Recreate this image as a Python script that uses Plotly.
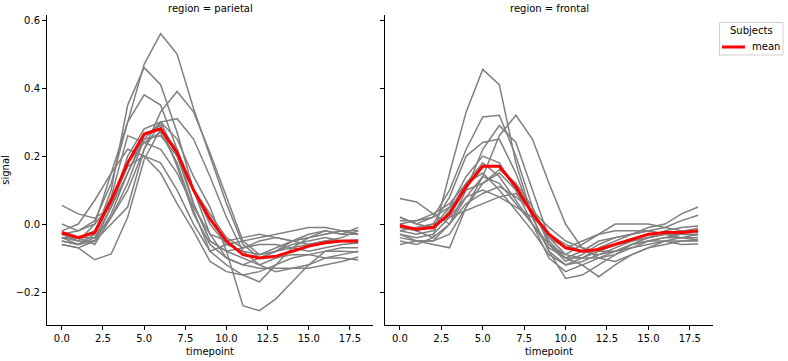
import plotly.graph_objects as go

timepoints = list(range(19))

parietal_subjects = [
    [0.0, -0.02, 0.01, 0.12, 0.30, 0.47, 0.56, 0.50, 0.34, 0.20, 0.06, -0.06, -0.10, -0.08, -0.06, -0.05, -0.04, -0.05, -0.056],
    [-0.04, -0.06, -0.03, 0.10, 0.35, 0.46, 0.41, 0.27, 0.10, -0.03, -0.10, -0.12, -0.10, -0.08, -0.07, -0.06, -0.05, -0.05, -0.047],
    [-0.03, -0.05, 0.0, 0.15, 0.30, 0.38, 0.35, 0.22, 0.06, -0.05, -0.08, -0.07, -0.05, -0.04, -0.05, -0.06, -0.05, -0.04, -0.02],
    [-0.05, -0.06, -0.05, 0.0, 0.05, 0.22, 0.33, 0.39, 0.33, 0.21, 0.08, -0.05, -0.09, -0.08, -0.05, -0.03, -0.02, -0.03, -0.01],
    [-0.04, -0.04, -0.04, 0.02, 0.10, 0.22, 0.30, 0.31, 0.25, 0.14, 0.02, -0.08, -0.12, -0.14, -0.13, -0.13, -0.12, -0.11, -0.097],
    [0.055, 0.03, 0.017, 0.05, 0.15, 0.25, 0.30, 0.25, 0.14, 0.05, -0.08, -0.24, -0.255, -0.22, -0.17, -0.12, -0.08, -0.07, -0.07],
    [-0.06, -0.07, -0.105, -0.088, 0.02, 0.19, 0.28, 0.22, 0.10, 0.0, -0.06, -0.08, -0.09, -0.07, -0.05, -0.04, -0.03, -0.02, -0.03],
    [-0.03, -0.04, -0.02, 0.08, 0.26, 0.24, 0.22, 0.15, 0.05, -0.03, -0.05, -0.04, -0.03, -0.04, -0.05, -0.04, -0.03, -0.02, -0.03],
    [-0.04, -0.05, -0.05, 0.05, 0.18, 0.24, 0.27, 0.18, 0.04, -0.08, -0.12, -0.15, -0.14, -0.12, -0.10, -0.09, -0.08, -0.08, -0.082],
    [-0.02, 0.0, 0.07, 0.15, 0.22, 0.20, 0.15, 0.06, -0.02, -0.11, -0.14, -0.15, -0.17, -0.12, -0.07, -0.04, -0.02, -0.03, -0.03],
    [-0.05, -0.06, -0.04, 0.05, 0.20, 0.28, 0.30, 0.20, 0.06, -0.05, -0.08, -0.10, -0.12, -0.10, -0.09, -0.09, -0.10, -0.10, -0.106],
    [-0.06, -0.07, -0.05, 0.03, 0.15, 0.26, 0.29, 0.17, 0.03, -0.06, -0.10, -0.12, -0.13, -0.13, -0.13, -0.12, -0.10, -0.09, -0.08],
    [-0.03, -0.02, 0.0, 0.06, 0.17, 0.20, 0.18, 0.10, 0.0, -0.08, -0.06, -0.05, -0.04, -0.03, -0.02, -0.01, -0.01, -0.02, -0.02],
    [-0.04, -0.04, -0.06, 0.02, 0.12, 0.25, 0.26, 0.20, 0.10, 0.03, -0.04, -0.07, -0.06, -0.06, -0.07, -0.08, -0.07, -0.06, -0.056],
]
parietal_mean = [-0.025, -0.04, -0.025, 0.07, 0.18, 0.265, 0.28, 0.21, 0.10, 0.015, -0.05, -0.09, -0.10, -0.095, -0.08, -0.065, -0.055, -0.05, -0.05]

frontal_subjects = [
    [0.0, -0.02, -0.04, 0.15, 0.33, 0.455, 0.41, 0.18, 0.02, -0.08, -0.12, -0.10, -0.08, -0.06, -0.05, -0.04, -0.03, -0.02, -0.012],
    [0.02, 0.0, 0.02, 0.10, 0.22, 0.315, 0.32, 0.20, 0.05, -0.06, -0.10, -0.08, -0.05, -0.04, -0.03, -0.01, 0.0, 0.03, 0.05],
    [-0.03, -0.05, -0.05, -0.03, 0.05, 0.14, 0.26, 0.32, 0.25, 0.12, 0.0, -0.07, -0.10, -0.11, -0.09, -0.07, -0.05, -0.04, -0.04],
    [0.075, 0.065, 0.03, 0.0, 0.10, 0.22, 0.29, 0.24, 0.10, -0.04, -0.09, -0.06, -0.03, -0.02, -0.02, -0.02, -0.01, 0.01, 0.026],
    [-0.01, -0.02, 0.0, 0.08, 0.20, 0.24, 0.25, 0.15, 0.02, -0.08, -0.16, -0.15, -0.12, -0.09, -0.06, -0.05, -0.05, -0.06, -0.059],
    [0.02, 0.0, -0.01, 0.05, 0.14, 0.20, 0.18, 0.10, 0.0, -0.10, -0.14, -0.12, -0.155, -0.12, -0.09, -0.07, -0.06, -0.05, -0.047],
    [-0.04, -0.05, -0.06, -0.07, 0.05, 0.12, 0.15, 0.10, 0.03, -0.04, -0.07, -0.05, -0.03, 0.0, 0.0, 0.0, -0.01, -0.02, -0.024],
    [-0.02, -0.03, -0.02, 0.04, 0.12, 0.18, 0.14, 0.07, 0.0, -0.07, -0.10, -0.10, -0.07, -0.05, -0.03, -0.02, -0.03, -0.03, -0.032],
    [-0.03, -0.04, -0.03, 0.02, 0.08, 0.10, 0.08, 0.05, 0.02, -0.03, -0.06, -0.08, -0.09, -0.07, -0.05, -0.04, -0.03, -0.03, -0.03],
    [0.01, 0.01, 0.03, 0.06, 0.12, 0.15, 0.10, 0.04, -0.02, -0.09, -0.12, -0.11, -0.09, -0.08, -0.06, -0.04, -0.02, -0.01, -0.006],
    [-0.05, -0.06, -0.04, 0.0, 0.06, 0.09, 0.11, 0.08, 0.04, -0.01, -0.05, -0.07, -0.08, -0.08, -0.07, -0.05, -0.04, -0.04, -0.047],
    [-0.02, -0.01, 0.0, 0.02, 0.04, 0.06, 0.08, 0.09, 0.04, -0.05, -0.10, -0.12, -0.10, -0.08, -0.06, -0.05, -0.04, -0.03, -0.02],
    [0.0, 0.01, 0.02, 0.05, 0.10, 0.12, 0.16, 0.12, 0.05, -0.06, -0.11, -0.09, -0.06, -0.04, -0.03, -0.02, -0.03, -0.04, -0.03],
    [-0.06, -0.05, -0.05, 0.0, 0.08, 0.14, 0.12, 0.06, 0.0, -0.06, -0.09, -0.10, -0.10, -0.09, -0.07, -0.06, -0.05, -0.05, -0.05],
]
frontal_mean = [-0.005, -0.015, -0.01, 0.03, 0.11, 0.17, 0.17, 0.11, 0.03, -0.03, -0.07, -0.08, -0.075, -0.06, -0.045, -0.03, -0.025, -0.025, -0.02]

regions = ["parietal", "frontal"]
x_ticks = [0.0, 2.5, 5.0, 7.5, 10.0, 12.5, 15.0, 17.5]
y_ticks = [-0.2, 0.0, 0.2, 0.4, 0.6]
legend_title = "Subjects"
legend_label = "mean"

W, H = 788, 361


def px(xp):
    return xp / W


def py(yp):
    return (H - yp) / H


fig = go.Figure()
panels = [("x", "y", parietal_subjects, parietal_mean), ("x2", "y2", frontal_subjects, frontal_mean)]
for i, (xa, ya, subs, mean) in enumerate(panels):
    for s in subs:
        fig.add_trace(go.Scatter(x=timepoints, y=s, mode="lines", xaxis=xa, yaxis=ya,
                                 line=dict(color="#808080", width=1.5), showlegend=False,
                                 hoverinfo="skip"))
    fig.add_trace(go.Scatter(x=timepoints, y=mean, mode="lines", xaxis=xa, yaxis=ya,
                             line=dict(color="#ff0000", width=3), name=legend_label,
                             showlegend=False))

ydom = [py(325), py(15)]
axis_common = dict(showline=True, linecolor="black", linewidth=1, ticks="outside",
                   ticklen=4, tickcolor="black", showgrid=False, zeroline=False,
                   tickfont=dict(size=10, color="black"), mirror=False)

# legend box drawn in paper coordinates (matplotlib-style legend)
shapes = [
    dict(type="rect", xref="paper", yref="paper", x0=px(719.5), x1=px(783), y0=py(55), y1=py(22.5),
         line=dict(color="#d0d0d0", width=1), fillcolor="white", layer="above"),
    dict(type="line", xref="paper", yref="paper", x0=px(722), x1=px(745), y0=py(47), y1=py(47),
         line=dict(color="#ff0000", width=3), layer="above"),
]

fig.update_layout(
    width=W, height=H,
    margin=dict(l=0, r=0, t=0, b=0),
    paper_bgcolor="white", plot_bgcolor="white",
    font=dict(family="DejaVu Sans", size=10, color="black"),
    showlegend=False,
    xaxis=dict(domain=[px(47), px(373)], range=[-0.9, 18.9], tickvals=x_ticks,
               tickformat=".1f", anchor="y",
               title=dict(text="timepoint", font=dict(size=10), standoff=4), **axis_common),
    yaxis=dict(domain=ydom, range=[-0.297, 0.615], tickvals=y_ticks, tickformat=".1f",
               anchor="x", title=dict(text="signal", font=dict(size=10), standoff=6), **axis_common),
    xaxis2=dict(domain=[px(385), px(713)], range=[-0.9, 18.9], tickvals=x_ticks,
                tickformat=".1f", anchor="y2",
                title=dict(text="timepoint", font=dict(size=10), standoff=4), **axis_common),
    yaxis2=dict(domain=ydom, range=[-0.297, 0.615], tickvals=y_ticks, showticklabels=False,
                anchor="x2", **axis_common),
    shapes=shapes,
    annotations=[
        dict(text="region = " + regions[0], x=px((47 + 373) / 2), y=py(8),
             xref="paper", yref="paper", showarrow=False, font=dict(size=10),
             xanchor="center", yanchor="middle"),
        dict(text="region = " + regions[1], x=px((385 + 713) / 2), y=py(8),
             xref="paper", yref="paper", showarrow=False, font=dict(size=10),
             xanchor="center", yanchor="middle"),
        dict(text=legend_title, x=px(751.5), y=py(31), xref="paper", yref="paper",
             showarrow=False, font=dict(size=10), xanchor="center", yanchor="middle"),
        dict(text=legend_label, x=px(750), y=py(47), xref="paper", yref="paper",
             showarrow=False, font=dict(size=10), xanchor="left", yanchor="middle"),
    ],
)

fig.write_html("out.html", config={"displayModeBar": False},
               post_script="document.body.style.margin='0px';")
